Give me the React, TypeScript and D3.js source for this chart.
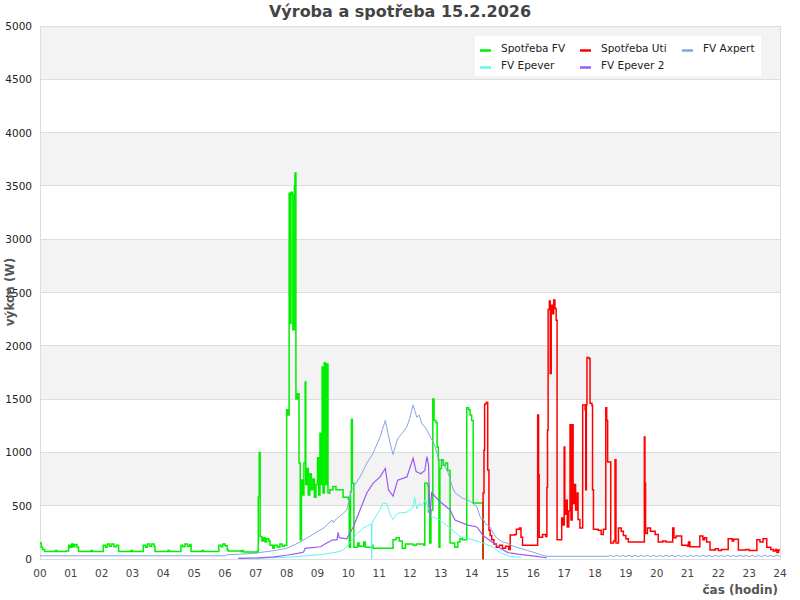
import React from "react";
import * as d3 from "d3";

const TITLE = "Výroba a spotřeba 15.2.2026";
const Y_TICKS = [0, 500, 1000, 1500, 2000, 2500, 3000, 3500, 4000, 4500, 5000];
const X_TICKS = d3.range(0, 25);

const spotrebaFV: [number, number][] = [
  [0.0, 150], [0.04, 110], [0.08, 90], [0.15, 70], [0.45, 70], [0.5, 80], [0.55, 70], [0.85, 75],
  [0.93, 130], [0.98, 110], [1.03, 140], [1.08, 115], [1.13, 135], [1.2, 110], [1.25, 70],
  [1.6, 70], [1.65, 80], [1.7, 70],
  [2.05, 130], [2.12, 110], [2.18, 140], [2.25, 120], [2.32, 140], [2.4, 115], [2.48, 130], [2.55, 70],
  [2.9, 70], [2.95, 80], [3.0, 70],
  [3.35, 130], [3.42, 110], [3.48, 140], [3.55, 120], [3.62, 140], [3.7, 120], [3.73, 70],
  [4.1, 70], [4.15, 80], [4.2, 70],
  [4.57, 130], [4.63, 115], [4.7, 140], [4.78, 120], [4.85, 135], [4.9, 70],
  [5.2, 70], [5.25, 80], [5.3, 70],
  [5.8, 130], [5.87, 115], [5.93, 140], [6.0, 125], [6.07, 90], [6.1, 75],
  [6.5, 70], [6.55, 80], [6.6, 65], [7.0, 60], [7.05, 75],
  [7.08, 580], [7.11, 1000], [7.14, 210], [7.2, 170], [7.25, 200], [7.3, 160], [7.35, 190], [7.42, 170],
  [7.46, 130], [7.55, 100], [7.6, 130], [7.7, 110], [7.78, 140], [7.85, 120], [7.92, 130],
  [8.0, 1400], [8.04, 1350], [8.08, 3430], [8.12, 2210], [8.14, 3440], [8.18, 3420], [8.2, 2150],
  [8.25, 3500], [8.27, 3620], [8.3, 1500], [8.35, 1550], [8.4, 900], [8.44, 180], [8.48, 740],
  [8.52, 600], [8.56, 900], [8.6, 1660], [8.62, 700], [8.66, 850], [8.7, 600], [8.75, 800],
  [8.8, 650], [8.85, 750], [8.9, 580], [8.95, 700], [9.0, 950], [9.04, 600], [9.08, 1180],
  [9.12, 700], [9.15, 1800], [9.18, 620], [9.22, 1840], [9.26, 700], [9.3, 1830], [9.34, 620],
  [9.4, 650], [9.5, 680], [9.6, 650], [9.83, 580], [10.0, 560], [10.03, 110], [10.07, 630],
  [10.1, 1310], [10.13, 710], [10.18, 110], [10.3, 150], [10.35, 120], [10.5, 160], [10.55, 110],
  [10.76, 130], [10.8, 100], [11.45, 180], [11.55, 200], [11.65, 170], [11.75, 100], [11.85, 140],
  [12.1, 130], [12.2, 140], [12.45, 130], [12.48, 710], [12.58, 690], [12.6, 440], [12.64, 150],
  [12.68, 460], [12.74, 1500], [12.78, 1300], [12.84, 1280], [12.88, 1050], [12.92, 930],
  [12.94, 110], [12.97, 850], [13.02, 930], [13.08, 880], [13.15, 900], [13.22, 830], [13.3, 150],
  [13.45, 110], [13.55, 160], [13.62, 190], [13.7, 180], [13.84, 1420], [13.9, 1400], [13.95, 1350],
  [14.0, 1300], [14.05, 525], [14.36, 0],
];

const spotrebaUti: [number, number][] = [
  [14.36, 0], [14.37, 620], [14.4, 1020], [14.42, 1450], [14.45, 1460], [14.5, 1470], [14.52, 835],
  [14.56, 270], [14.6, 220], [14.65, 180], [14.72, 140], [14.8, 110], [14.9, 130], [15.0, 100],
  [15.1, 120], [15.2, 90], [15.25, 225], [15.4, 230], [15.45, 280], [15.55, 290], [15.6, 205],
  [15.65, 130], [16.14, 1350], [16.17, 790], [16.19, 205], [16.3, 230], [16.4, 210], [16.44, 670],
  [16.46, 1210], [16.48, 2340], [16.52, 2420], [16.55, 1740], [16.58, 2380], [16.62, 2300],
  [16.66, 2430], [16.7, 2350], [16.74, 2240], [16.77, 180], [16.92, 385], [16.96, 320], [17.0, 1050],
  [17.02, 420], [17.06, 550], [17.1, 300], [17.15, 450], [17.19, 1260], [17.22, 365], [17.26, 1260],
  [17.29, 520], [17.33, 700], [17.37, 460], [17.42, 620], [17.45, 370], [17.51, 290], [17.6, 1445],
  [17.68, 1400], [17.7, 650], [17.72, 1450], [17.74, 1890], [17.8, 1880], [17.84, 1460], [17.9, 1440],
  [17.92, 650], [17.95, 280], [18.1, 270], [18.2, 230], [18.27, 280], [18.35, 1420], [18.38, 1300],
  [18.41, 910], [18.51, 150], [18.6, 170], [18.65, 930], [18.68, 150], [18.76, 290], [18.85, 260],
  [18.92, 220], [19.0, 190], [19.08, 160], [19.6, 1145], [19.62, 710], [19.64, 240], [19.7, 290],
  [19.8, 260], [19.95, 230], [20.05, 160], [20.2, 170], [20.3, 160], [20.52, 290], [20.56, 200],
  [20.63, 215], [20.81, 130], [21.0, 120], [21.03, 160], [21.08, 115], [21.4, 215], [21.5, 180],
  [21.55, 200], [21.62, 160], [21.73, 85], [21.9, 95], [22.0, 80], [22.1, 90], [22.32, 190],
  [22.45, 170], [22.5, 185], [22.65, 85], [22.9, 90], [23.0, 80], [23.25, 180], [23.35, 160],
  [23.45, 190], [23.57, 110], [23.7, 90], [23.78, 75], [23.85, 90], [23.9, 60], [23.95, 85], [24.0, 85],
];

const fvAxpert: [number, number][] = [
  [0, 30], [6.0, 30], [6.06, 40], [6.5, 45], [7.0, 55], [7.1, 60], [7.5, 75], [8.0, 100], [8.3, 140],
  [8.65, 195], [8.9, 240], [9.2, 290], [9.47, 365], [9.52, 340], [9.57, 365], [9.8, 420], [9.95, 460],
  [10.1, 650], [10.2, 690], [10.38, 770], [10.6, 900], [10.8, 990], [11.03, 1145], [11.2, 1300],
  [11.35, 1090], [11.45, 980], [11.6, 1130], [11.75, 1180], [11.9, 1240], [12.0, 1330], [12.1, 1445],
  [12.22, 1330], [12.3, 1350], [12.38, 1275], [12.55, 1210], [12.65, 1150], [12.8, 1070], [12.9, 960],
  [12.97, 930], [13.07, 900], [13.23, 815], [13.36, 690], [13.46, 620], [13.56, 600], [13.7, 570],
  [13.88, 555], [14.0, 530], [14.17, 490], [14.27, 400], [14.32, 370], [14.37, 380], [14.45, 330],
  [14.6, 300], [14.7, 240], [14.82, 195], [15.0, 160], [15.14, 150], [15.35, 120], [15.57, 100],
  [15.8, 80], [16.1, 55], [16.3, 35], [16.47, 25], [18.4, 25],
  [18.5, 34], [18.6, 22], [18.7, 35], [18.8, 24], [18.9, 34], [19.0, 22], [19.1, 35], [19.2, 23],
  [19.3, 34], [19.4, 22], [19.5, 35], [19.6, 24], [19.7, 34], [19.8, 22], [19.9, 35], [20.0, 23],
  [20.1, 34], [20.2, 22], [20.3, 35], [20.4, 24], [20.5, 34], [20.6, 22], [20.7, 35], [20.8, 23],
  [20.9, 34], [21.0, 22], [21.1, 35], [21.2, 24], [21.3, 34], [21.4, 22], [21.5, 35], [21.6, 23],
  [21.7, 34], [21.8, 22], [21.9, 35], [22.0, 24], [22.1, 34], [22.2, 22], [22.3, 35], [22.4, 23],
  [22.5, 34], [22.6, 22], [22.7, 35], [22.8, 24], [22.9, 34], [23.0, 22], [23.1, 35], [23.2, 23],
  [23.3, 34], [23.4, 22], [23.5, 35], [23.6, 24], [23.7, 34], [23.8, 22], [23.9, 35], [24.0, 24],
];

const fvEpever: [number, number][] = [
  [6.43, 8], [7.0, 8], [8.0, 15], [8.65, 30], [9.08, 40], [9.63, 65], [9.8, 80], [9.95, 115],
  [10.2, 210], [10.48, 290], [10.75, 330], [10.755, 0], [10.77, 340], [11.0, 450], [11.13, 525],
  [11.25, 520], [11.35, 420], [11.45, 370], [11.6, 430], [11.9, 440], [12.1, 480], [12.15, 580],
  [12.22, 470], [12.3, 520], [12.38, 500], [12.5, 560], [12.6, 470], [12.7, 400], [12.97, 365],
  [13.3, 290], [13.62, 210], [14.05, 180], [14.37, 150], [14.7, 110], [14.92, 60], [15.24, 25],
  [15.6, 15],
];

const fvEpever2: [number, number][] = [
  [6.43, 5], [7.1, 10], [7.6, 20], [8.0, 35], [8.4, 55], [8.55, 65], [8.6, 100], [9.1, 115],
  [9.3, 150], [9.5, 180], [9.63, 180], [9.67, 250], [9.7, 200], [9.95, 190], [10.16, 300],
  [10.38, 460], [10.6, 620], [10.8, 710], [11.03, 770], [11.2, 850], [11.3, 650], [11.45, 590],
  [11.6, 740], [11.9, 770], [12.05, 900], [12.1, 945], [12.2, 820], [12.35, 800], [12.48, 830],
  [12.55, 960], [12.6, 880], [12.65, 390], [12.7, 620], [12.97, 540], [13.3, 460], [13.46, 365],
  [13.85, 320], [14.17, 300], [14.37, 220], [14.66, 160], [14.8, 130], [14.92, 100], [15.18, 60],
  [15.5, 45], [16.1, 25], [16.44, 12],
];

const SERIES_NAMES = ["Spotřeba FV", "Spotřeba Uti", "FV Axpert", "FV Epever", "FV Epever 2"];
const SERIES_DATA = [spotrebaFV, spotrebaUti, fvAxpert, fvEpever, fvEpever2];
const SERIES_COLORS = ["#00ee00", "#ff0000", "#85a6e6", "#5ff7ee", "#9a5cf5"];
const SERIES_WIDTHS = [1.5, 1.5, 1, 1, 1.2];
const SERIES_STEP = [true, true, false, false, false];

const W = 800, H = 600;
const M = { left: 40, right: 780, top: 26, bottom: 559 };
const FONT = "DejaVu Sans, sans-serif";

export default function App() {
  const x = d3.scaleLinear().domain([0, 24]).range([M.left, M.right]);
  const y = d3.scaleLinear().domain([0, 5000]).range([M.bottom, M.top]);

  const bands = Y_TICKS.slice(0, -1).map((v, i) => ({ v0: v, v1: Y_TICKS[i + 1], i }));

  const legendPos = [
    [480, 48], [580, 48], [682, 48], [480, 65], [580, 65],
  ];

  return (
    <svg width={W} height={H} style={{ position: "absolute", left: 0, top: 0, background: "#fff" }}
      fontFamily={FONT}>
      <rect x={0} y={0} width={W} height={H} fill="#fff" />
      {bands.map((b) => (
        <rect key={b.i} x={M.left} width={M.right - M.left}
          y={y(b.v1)} height={y(b.v0) - y(b.v1)}
          fill={b.i % 2 === 1 ? "#f3f3f3" : "#ffffff"} />
      ))}
      {Y_TICKS.map((t) => (
        <line key={t} x1={M.left} x2={M.right} y1={y(t)} y2={y(t)} stroke="#dddddd" strokeWidth={1}
          shapeRendering="crispEdges" />
      ))}
      <rect x={M.left} y={M.top} width={M.right - M.left} height={M.bottom - M.top}
        fill="none" stroke="#dddddd" strokeWidth={1} shapeRendering="crispEdges" />

      {SERIES_DATA.map((data, i) => {
        const gen = d3.line<[number, number]>()
          .x((d) => x(d[0]))
          .y((d) => y(d[1]))
          .curve(SERIES_STEP[i] ? d3.curveStepAfter : d3.curveLinear);
        return (
          <path key={i} d={gen(data) || ""} fill="none" stroke={SERIES_COLORS[i]}
            strokeWidth={SERIES_WIDTHS[i]} strokeLinejoin="miter" />
        );
      })}

      {Y_TICKS.map((t) => (
        <text key={t} x={32} y={y(t) + 4} textAnchor="end" fontSize={10.5} fill="#222">{t}</text>
      ))}
      {X_TICKS.map((t) => (
        <text key={t} x={x(t)} y={577} textAnchor="middle" fontSize={10.5} fill="#444">
          {String(t).padStart(2, "0")}
        </text>
      ))}

      <text x={400} y={17} textAnchor="middle" fontSize={16} fontWeight="bold" fill="#444">{TITLE}</text>
      <text x={778} y={594} textAnchor="end" fontSize={12} fontWeight="bold" fill="#555">čas (hodin)</text>
      <text transform={`translate(13.5,292) rotate(-90)`} textAnchor="middle" fontSize={12}
        fontWeight="bold" fill="#555">výkon (W)</text>

      <rect x={475} y={36} width={286} height={40} fill="#fff" />
      {SERIES_NAMES.map((n, i) => (
        <g key={n}>
          <line x1={legendPos[i][0]} x2={legendPos[i][0] + 11} y1={legendPos[i][1] + 2.5}
            y2={legendPos[i][1] + 2.5} stroke={SERIES_COLORS[i]} strokeWidth={2.5} />
          <text x={legendPos[i][0] + 21} y={legendPos[i][1] + 4} fontSize={10.5} fill="#222">{n}</text>
        </g>
      ))}
    </svg>
  );
}
